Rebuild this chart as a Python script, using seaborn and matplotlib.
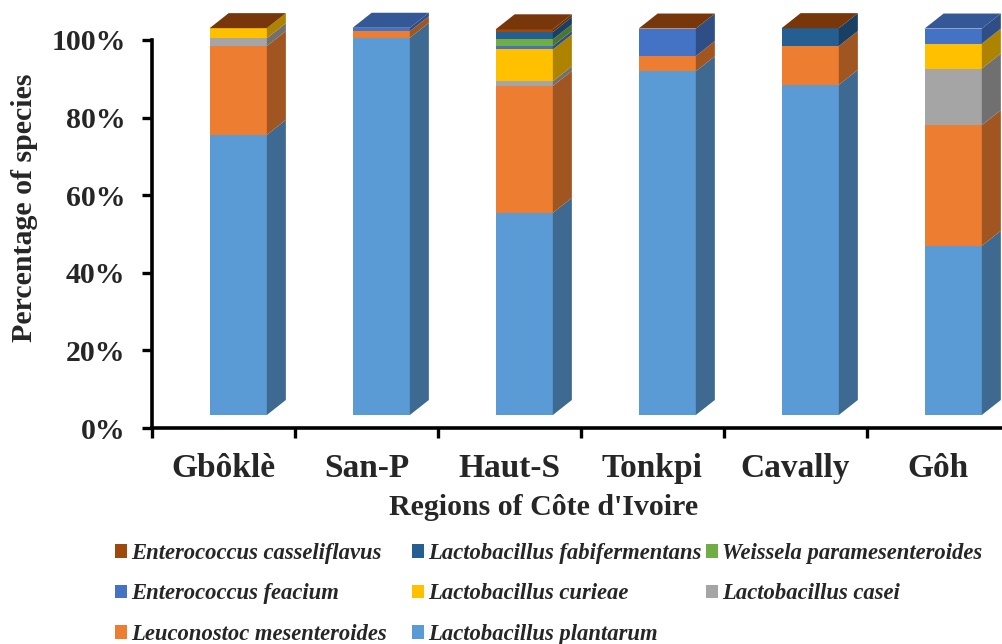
import numpy as np
import pandas as pd
import matplotlib
matplotlib.use("Agg")
import matplotlib.pyplot as plt
import matplotlib.transforms as mtransforms
from matplotlib.patches import Polygon, Patch
from matplotlib.font_manager import FontProperties
import seaborn as sns

# Regions (x categories)
regions = ["Gbôklè", "San-P", "Haut-S", "Tonkpi", "Cavally", "Gôh"]

nan = np.nan
# Percentage of each species per region (stack order: bottom to top)
plantarum = [72.2, 97.2, 52.1, 88.6, 85.1, 43.6]
mesenteroides = [22.9, 1.7, 32.7, 3.9, 10.0, 31.1]
casei = [2.0, nan, 1.2, 0.0, 0.0, 14.6]
curieae = [2.6, nan, 8.2, 0.0, 0.0, 6.4]
feacium = [0.0, 0.9, 0.9, 7.1, 0.0, 3.9]
paramesenteroides = [0.0, nan, 1.7, 0.0, 0.0, nan]
fabifermentans = [0.0, nan, 1.9, 0.0, 4.6, nan]
casseliflavus = [0.0, nan, 0.7, 0.0, 0.0, nan]

species = [
    "Lactobacillus plantarum",
    "Leuconostoc mesenteroides",
    "Lactobacillus casei",
    "Lactobacillus curieae",
    "Enterococcus feacium",
    "Weissela paramesenteroides",
    "Lactobacillus fabifermentans",
    "Enterococcus casseliflavus",
]
series = [plantarum, mesenteroides, casei, curieae, feacium,
          paramesenteroides, fabifermentans, casseliflavus]
colors = {
    "Lactobacillus plantarum": "#5B9BD5",
    "Leuconostoc mesenteroides": "#ED7D31",
    "Lactobacillus casei": "#A5A5A5",
    "Lactobacillus curieae": "#FFC000",
    "Enterococcus feacium": "#4472C4",
    "Weissela paramesenteroides": "#70AD47",
    "Lactobacillus fabifermentans": "#255E91",
    "Enterococcus casseliflavus": "#9E480E",
}


def shade(hex_color, f):
    rgb = np.array(matplotlib.colors.to_rgb(hex_color)) * f
    return tuple(np.clip(rgb, 0, 1))


df = pd.DataFrame(dict(zip(species, series)), index=regions)
filled = df.fillna(0.0)
cum = filled.cumsum(axis=1)

sns.set_style("white")
plt.rcParams["font.family"] = ["Liberation Serif", "DejaVu Serif"]
plt.rcParams["font.weight"] = "bold"

fig = plt.figure(figsize=(10.03, 6.44), dpi=100)
ax = fig.add_axes([0.1515, 0.3354, 0.8554, 0.6025])

bar_w = 0.4
# front faces: cumulative heights, tallest first so lower segments sit on top
for name in reversed(species):
    sns.barplot(x=regions, y=cum[name].values, order=regions,
                color=colors[name], saturation=1, width=bar_w,
                errorbar=None, linewidth=0, ax=ax)

# 3-D look: whole column block pushed back, with side and top faces
shift = mtransforms.ScaledTranslation(0.148, 0.13, fig.dpi_scale_trans)
tr = ax.transData + shift
for p in ax.patches:
    p.set_transform(tr)
    p.set_clip_on(False)

dx, dy = 0.133, 3.87
for i, region in enumerate(regions):
    xl = i - bar_w / 2
    xr = i + bar_w / 2
    for name in species:
        v = filled.loc[region, name]
        if v <= 0:
            continue
        y1 = cum.loc[region, name]
        y0 = y1 - v
        side = Polygon([(xr, y0), (xr + dx, y0 + dy), (xr + dx, y1 + dy), (xr, y1)],
                       closed=True, facecolor=shade(colors[name], 0.68),
                       edgecolor="none", transform=tr, clip_on=False)
        ax.add_patch(side)
    present = [n for n in species if not np.isnan(df.loc[region, n])]
    top_name = present[-1]
    yt = cum.loc[region, species[-1]]
    top = Polygon([(xl, yt), (xl + dx, yt + dy), (xr + dx, yt + dy), (xr, yt)],
                  closed=True, facecolor=shade(colors[top_name], 0.76),
                  edgecolor="none", transform=tr, clip_on=False)
    ax.add_patch(top)

ax.set_xlim(-0.5, len(regions) - 0.5)
ax.set_ylim(0, 100)

ax.set_yticks(np.arange(0, 101, 20))
ax.set_yticklabels([f"{v}%" for v in range(0, 101, 20)])
ax.set_xticks(np.arange(len(regions)))
ax.set_xticklabels(regions)
ax.set_xticks(np.arange(len(regions) + 1) - 0.5, minor=True)
ax.tick_params(axis="y", direction="out", length=7, width=2.4, pad=12,
               labelsize=21.5, color="black", left=True)
ax.tick_params(axis="x", which="major", length=0, pad=18, labelsize=24)
ax.tick_params(axis="x", which="minor", direction="out", length=7, width=2.4,
               color="black", bottom=True)
for lab in ax.get_xticklabels() + ax.get_yticklabels():
    lab.set_fontweight("bold")

for s in ["top", "right"]:
    ax.spines[s].set_visible(False)
for s in ["left", "bottom"]:
    ax.spines[s].set_linewidth(2.6)
    ax.spines[s].set_color("black")

ax.set_ylabel("Percentage of species", fontsize=21.5, fontweight="bold")
ax.yaxis.set_label_coords(-0.133, 0.568)
ax.set_xlabel("Regions of Côte d'Ivoire", fontsize=21.5, fontweight="bold")
ax.xaxis.label.set_va("center")
ax.xaxis.set_label_coords(0.457, -0.206)

# legend in three columns
leg_font = FontProperties(family=["Liberation Serif", "DejaVu Serif"],
                          style="italic", weight="bold", size=16.3)
columns = [
    (115, ["Enterococcus casseliflavus", "Enterococcus feacium", "Leuconostoc mesenteroides"]),
    (412, ["Lactobacillus fabifermentans", "Lactobacillus curieae", "Lactobacillus plantarum"]),
    (706, ["Weissela paramesenteroides", "Lactobacillus casei"]),
]
W, H = 1003, 644
for xpix, names in columns:
    handles = [Patch(facecolor=colors[n], edgecolor="none") for n in names]
    fig.legend(handles, names, loc="upper left",
               bbox_to_anchor=(xpix / W, 1 - 543 / H),
               prop=leg_font, frameon=False, borderpad=0, borderaxespad=0,
               handlelength=0.55, handleheight=0.55, handletextpad=0.15,
               labelspacing=0.86)

fig.savefig("out.png", dpi=100)
